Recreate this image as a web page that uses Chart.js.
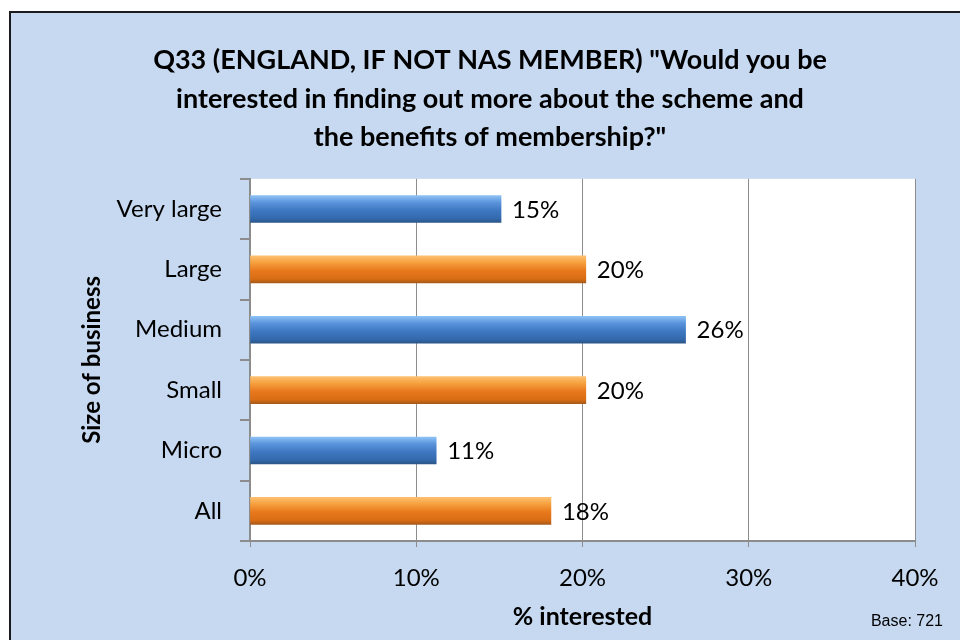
<!DOCTYPE html>
<html>
<head>
<meta charset="utf-8">
<script src="https://cdn.jsdelivr.net/npm/chart.js@4"></script>
<style>
  html, body { margin: 0; padding: 0; background: #ffffff; }
  #wrap { width: 960px; height: 640px; position: relative; }
  canvas { display: block; }
</style>
</head>
<body>
<div id="wrap"><canvas id="c" width="960" height="640"></canvas></div>
<script>
const categories = ["Very large", "Large", "Medium", "Small", "Micro", "All"];
const values = [15.1, 20.2, 26.2, 20.2, 11.2, 18.1];
const seriesColors = ["blue", "orange", "blue", "orange", "blue", "orange"];
const xTicks = [0, 10, 20, 30, 40];
const titleLines = [
  'Q33 (ENGLAND, IF NOT NAS MEMBER) "Would you be',
  'interested in finding out more about the scheme and',
  'the benefits of membership?"'
];
const yTitle = "Size of business";
const xTitle = "% interested";
const baseNote = "Base: 721";

const FONT = "Lato, 'Open Sans', sans-serif";
const BAR_H = 27;

const gradStops = {
  blue: ["#8ec2f6", "#5b95dc", "#3f78c2", "#3369ad", "#2b5688"],
  orange: ["#fdc070", "#f6a03e", "#e8781c", "#d96d14", "#a85a1a"]
};

function barFill(ctx) {
  const chart = ctx.chart;
  const kind = seriesColors[ctx.dataIndex] || "blue";
  const stops = gradStops[kind];
  const ys = chart.scales && chart.scales.y;
  if (!chart.chartArea || !ys) return stops[2];
  const cy = ys.getPixelForValue(ctx.dataIndex);
  if (cy === undefined || isNaN(cy)) return stops[2];
  const g = chart.ctx.createLinearGradient(0, cy - BAR_H / 2, 0, cy + BAR_H / 2);
  g.addColorStop(0, stops[0]);
  g.addColorStop(0.25, stops[1]);
  g.addColorStop(0.55, stops[2]);
  g.addColorStop(0.85, stops[3]);
  g.addColorStop(1, stops[4]);
  return g;
}

const backgroundPlugin = {
  id: "bg",
  beforeDraw(chart) {
    const c = chart.ctx;
    c.save();
    c.fillStyle = "#ffffff";
    c.fillRect(0, 0, chart.width, chart.height);
    c.fillStyle = "#c6d9f1";
    c.fillRect(9, 11, chart.width - 9, chart.height - 11);
    c.strokeStyle = "#1b1b1b";
    c.lineWidth = 2;
    c.beginPath();
    c.moveTo(10, chart.height);
    c.lineTo(10, 12);
    c.lineTo(chart.width, 12);
    c.stroke();
    const a = chart.chartArea;
    c.fillStyle = "#ffffff";
    c.fillRect(a.left, a.top, a.right - a.left, a.bottom - a.top);
    c.restore();
  }
};

const labelPlugin = {
  id: "labels",
  afterDatasetsDraw(chart) {
    const c = chart.ctx;
    const meta = chart.getDatasetMeta(0);
    c.save();
    c.fillStyle = "#000000";
    c.font = "24px " + FONT;
    c.textBaseline = "middle";
    c.textAlign = "left";
    meta.data.forEach((bar, i) => {
      c.fillText(Math.round(values[i]) + "%", bar.x + 11, bar.y + 1);
    });
    c.font = "16px 'Liberation Sans', Arial, sans-serif";
    c.textAlign = "right";
    c.fillText(baseNote, 943, 622);
    c.restore();
  }
};

new Chart(document.getElementById("c"), {
  type: "bar",
  data: {
    labels: categories,
    datasets: [{
      data: values,
      backgroundColor: barFill,
      borderWidth: 0,
      barThickness: BAR_H
    }]
  },
  plugins: [backgroundPlugin, labelPlugin],
  options: {
    indexAxis: "y",
    responsive: false,
    animation: false,
    devicePixelRatio: 1,
    layout: { padding: { left: 65, right: 45, top: 11, bottom: 0 } },
    plugins: {
      legend: { display: false },
      tooltip: { enabled: false },
      title: {
        display: true,
        text: titleLines,
        color: "#000000",
        font: { family: FONT, size: 27, weight: "bold", lineHeight: 1.43 },
        padding: { top: 30, bottom: 22 }
      }
    },
    scales: {
      x: {
        min: 0,
        max: 40,
        afterBuildTicks(scale) { scale.ticks = xTicks.map(v => ({ value: v })); },
        afterFit(scale) { scale.height = 99; },
        ticks: {
          color: "#000000",
          font: { family: FONT, size: 24 },
          padding: 17,
          callback: v => v + "%"
        },
        grid: {
          color: "#8c8c8c",
          lineWidth: 1,
          tickLength: 6,
          drawOnChartArea: true
        },
        border: { display: true, color: "#8c8c8c", width: 2 },
        title: {
          display: true,
          text: xTitle,
          color: "#000000",
          font: { family: FONT, size: 25, weight: "bold", lineHeight: 1.2 },
          padding: { top: 0, bottom: 8 }
        }
      },
      y: {
        afterFit(scale) { scale.width = 185; },
        ticks: {
          color: "#000000",
          font: { family: FONT, size: 24 },
          padding: 18
        },
        grid: {
          offset: true,
          color: "#8c8c8c",
          lineWidth: 2,
          tickLength: 10,
          drawOnChartArea: false
        },
        border: { display: true, color: "#8c8c8c", width: 2 },
        title: {
          display: true,
          text: yTitle,
          color: "#000000",
          font: { family: FONT, size: 24, weight: "bold", lineHeight: 1.2 },
          padding: { top: 13, bottom: 0 }
        }
      }
    }
  }
});
</script>
</body>
</html>
